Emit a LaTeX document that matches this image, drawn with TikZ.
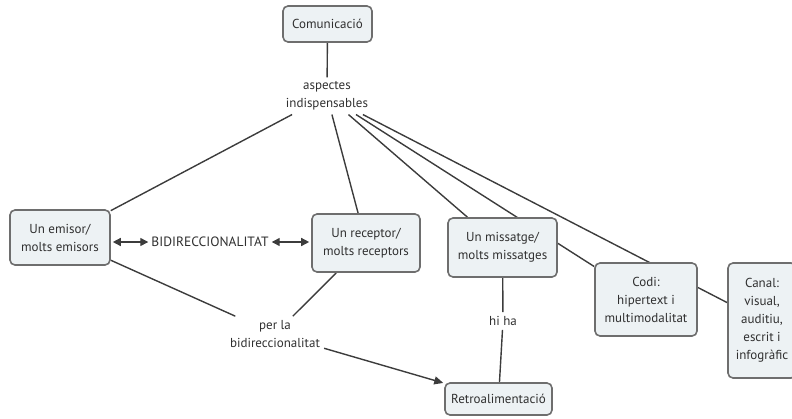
\documentclass[tikz,border=0pt]{standalone}
\usepackage{fontspec}
\setmainfont{PT Sans}
\usetikzlibrary{arrows.meta,backgrounds}
\definecolor{boxfill}{HTML}{EDF2F4}
\definecolor{boxline}{HTML}{6E6E6E}
\definecolor{linkline}{HTML}{3C3C3C}
\definecolor{txt}{HTML}{303030}
\begin{document}
\begin{tikzpicture}[x=1pt,y=-1pt,
  concept/.style={draw=boxline,line width=1.6pt,fill=boxfill,rounded corners=5pt,
    align=center,text=txt,font=\fontsize{13}{18}\selectfont,inner sep=1pt},
  phrase/.style={align=center,text=txt,font=\fontsize{13}{18}\selectfont,inner sep=4pt},
  link/.style={draw=linkline,line width=1.4pt},
  tip/.style={-{Triangle[length=9pt,width=8pt]}},
  bitip/.style={{Triangle[length=8pt,width=8pt]}-{Triangle[length=8pt,width=8pt]}}]
\useasboundingbox (0,0) rectangle (792,418);
\begin{scope}
\clip (0,0) rectangle (792,418);
% concepts
\node[concept,minimum width=89pt,minimum height=36pt] (com) at (327.5,24) {Comunicació};
\node[concept,minimum width=100pt,minimum height=55pt] (emi) at (60,237.5) {Un emisor/\\molts emisors};
\node[concept,minimum width=108pt,minimum height=58pt] (rec) at (366,243) {Un receptor/\\molts receptors};
\node[concept,minimum width=109pt,minimum height=59pt] (mis) at (502.5,247.5) {Un missatge/\\molts missatges};
\node[concept,minimum width=102pt,minimum height=73pt] (codi) at (646,299.5) {Codi:\\hipertext i\\multimodalitat};
\node[concept,minimum width=68pt,minimum height=115pt] (canal) at (762,320.5) {Canal:\\visual,\\auditiu,\\escrit i\\infogràfic};
\node[concept,minimum width=107pt,minimum height=32pt] (retro) at (498.5,399) {Retroalimentació};
% linking phrases
\node[phrase] (asp) at (327,96) {aspectes\\indispensables};
\node[phrase,font=\fontsize{13.5}{18}\selectfont,inner sep=3pt] (bid) at (210,242) {BIDIRECCIONALITAT};
\node[phrase] (perla) at (275,334) {per la\\bidireccionalitat};
\node[phrase] (hiha) at (503,321) {hi ha};
% connectors, kept behind the boxes
\begin{scope}[on background layer]
\draw[link] (com) -- (asp);
\draw[link] (asp) -- (emi);
\draw[link] (asp) -- (rec);
\draw[link] (asp) -- (mis);
\draw[link] (asp) -- (codi);
\draw[link] (asp) -- (canal);
\draw[link] (emi) -- (perla);
\draw[link] (rec) -- (perla);
\draw[link] (mis) -- (hiha);
\draw[link] (hiha) -- (retro);
\end{scope}
\draw[link,tip,shorten >=1pt] (perla) -- (retro);
\draw[link,bitip,shorten <=2pt] (emi.east |- bid) -- (bid);
\draw[link,bitip,shorten >=2pt] (bid) -- (rec.west |- bid);
\end{scope}
\end{tikzpicture}
\end{document}
